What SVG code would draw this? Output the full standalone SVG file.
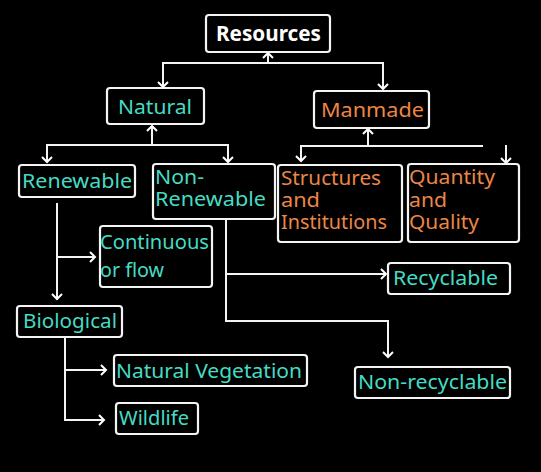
<svg xmlns="http://www.w3.org/2000/svg" width="541" height="472" viewBox="0 0 541 472">
<defs>
<marker id="ah" markerUnits="userSpaceOnUse" markerWidth="14" markerHeight="14" viewBox="-7 -7 14 14" refX="0" refY="0" orient="auto-start-reverse">
<path d="M-5,-5 L0,0 L-5,5" fill="none" stroke="#fff" stroke-width="2"/>
</marker>
<style>
.box{fill:#000;stroke:#f4f4f4;stroke-width:2.2}
.t{font-family:"Noto Sans","Liberation Sans",sans-serif;font-size:20px}
.teal{fill:#45dcc4}
.org{fill:#ec8645}
.c{fill:none;stroke:#f4f4f4;stroke-width:2}
</style>
</defs>
<rect x="0" y="0" width="541" height="472" fill="#000"/>
<g id="connectors">
<path class="c" d="M268,63 V53" marker-end="url(#ah)"/>
<path class="c" d="M163,87 V63 H383 V89" marker-start="url(#ah)" marker-end="url(#ah)"/>
<path class="c" d="M152,145 V126" marker-end="url(#ah)"/>
<path class="c" d="M47,162 V145 H228 V162" marker-start="url(#ah)" marker-end="url(#ah)"/>
<path class="c" d="M368,146 V129" marker-end="url(#ah)"/>
<path class="c" d="M301,161 V146 H483" marker-start="url(#ah)"/>
<path class="c" d="M506,145 V163" marker-end="url(#ah)"/>
<path class="c" d="M57,203 V299" marker-end="url(#ah)"/>
<path class="c" d="M57,257 H95" marker-end="url(#ah)"/>
<path class="c" d="M65,337 V420 H104" marker-end="url(#ah)"/>
<path class="c" d="M65,370 H106" marker-end="url(#ah)"/>
<path class="c" d="M226,219 V321 H388 V357" marker-end="url(#ah)"/>
<path class="c" d="M226,274 H386" marker-end="url(#ah)"/>
</g>
<g id="resources">
<rect class="box" x="206" y="15" width="124" height="37" rx="3"/>
<text x="216" y="41" fill="#fff" font-family="'Noto Sans','Liberation Sans',sans-serif" font-size="21" font-weight="bold" textLength="105" lengthAdjust="spacingAndGlyphs">Resources</text>
</g>
<g id="natural">
<rect class="box" x="107" y="88" width="97" height="36" rx="3"/>
<text class="t teal" x="118" y="114" font-size="21" textLength="74" lengthAdjust="spacingAndGlyphs">Natural</text>
</g>
<g id="manmade">
<rect class="box" x="314" y="91" width="115" height="37" rx="3"/>
<text class="t org" x="321" y="117" font-size="21" textLength="103" lengthAdjust="spacingAndGlyphs">Manmade</text>
</g>
<g id="renewable">
<rect class="box" x="19" y="165" width="116" height="32" rx="3"/>
<text class="t teal" x="22" y="188" textLength="110" lengthAdjust="spacingAndGlyphs">Renewable</text>
</g>
<g id="nonrenewable">
<rect class="box" x="153" y="164" width="122" height="55" rx="3"/>
<text class="t teal" x="155" y="184" textLength="49" lengthAdjust="spacingAndGlyphs">Non-</text>
<text class="t teal" x="155" y="206" textLength="111" lengthAdjust="spacingAndGlyphs">Renewable</text>
</g>
<g id="structures">
<rect class="box" x="278" y="165" width="124" height="77" rx="3"/>
<text class="t org" x="281" y="185" textLength="100" lengthAdjust="spacingAndGlyphs">Structures</text>
<text class="t org" x="281" y="207" textLength="39" lengthAdjust="spacingAndGlyphs">and</text>
<text class="t org" x="281" y="229" textLength="106" lengthAdjust="spacingAndGlyphs">Institutions</text>
</g>
<g id="quantity">
<rect class="box" x="408" y="164" width="111" height="78" rx="3"/>
<text class="t org" x="409" y="184" textLength="86" lengthAdjust="spacingAndGlyphs">Quantity</text>
<text class="t org" x="409" y="207" textLength="38" lengthAdjust="spacingAndGlyphs">and</text>
<text class="t org" x="409" y="229" textLength="70" lengthAdjust="spacingAndGlyphs">Quality</text>
</g>
<g id="continuous">
<rect class="box" x="100" y="226" width="112" height="61" rx="3"/>
<text class="t teal" x="100" y="249" textLength="109" lengthAdjust="spacingAndGlyphs">Continuous</text>
<text class="t teal" x="100" y="277" textLength="64" lengthAdjust="spacingAndGlyphs">or flow</text>
</g>
<g id="recyclable">
<rect class="box" x="388" y="263" width="122" height="31" rx="3"/>
<text class="t teal" x="393" y="285" textLength="105" lengthAdjust="spacingAndGlyphs">Recyclable</text>
</g>
<g id="biological">
<rect class="box" x="17" y="306" width="105" height="31" rx="3"/>
<text class="t teal" x="23" y="328" textLength="94" lengthAdjust="spacingAndGlyphs">Biological</text>
</g>
<g id="natural-vegetation">
<rect class="box" x="114" y="355" width="193" height="31" rx="3"/>
<text class="t teal" x="116" y="378" textLength="186" lengthAdjust="spacingAndGlyphs">Natural Vegetation</text>
</g>
<g id="nonrecyclable">
<rect class="box" x="355" y="367" width="155" height="31" rx="3"/>
<text class="t teal" x="358" y="389" textLength="149" lengthAdjust="spacingAndGlyphs">Non-recyclable</text>
</g>
<g id="wildlife">
<rect class="box" x="116" y="403" width="82" height="31" rx="3"/>
<text class="t teal" x="119" y="425" textLength="70" lengthAdjust="spacingAndGlyphs">Wildlife</text>
</g>
</svg>
